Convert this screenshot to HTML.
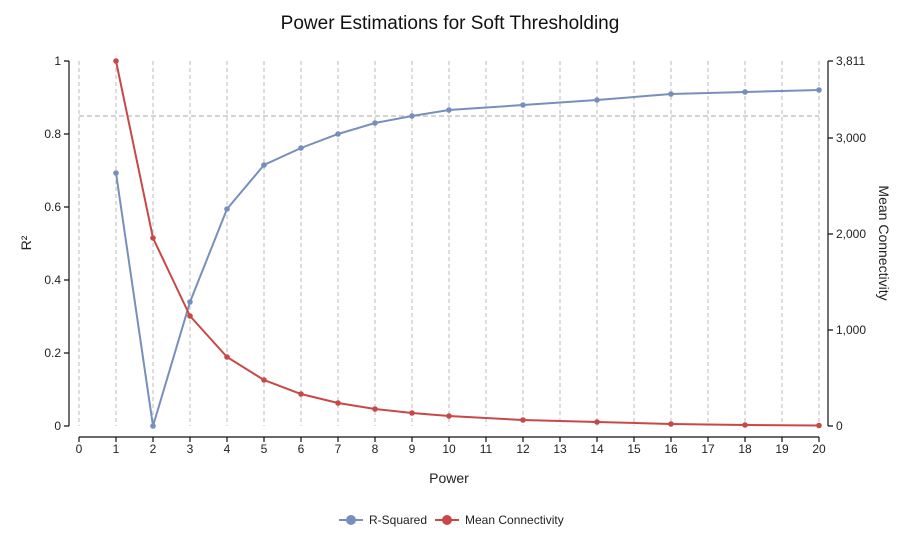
<!DOCTYPE html>
<html><head><meta charset="utf-8"><style>body{margin:0;background:#fff}svg{display:block;font-family:"Liberation Sans",Roboto,sans-serif}</style></head><body>
<svg width="901" height="533" viewBox="0 0 901 533" xmlns="http://www.w3.org/2000/svg">
<text x="450" y="29" text-anchor="middle" font-size="19" fill="#111">Power Estimations for Soft Thresholding</text>
<g stroke="#bbb" stroke-dasharray="4,3" stroke-width="1">
<line x1="79" y1="61" x2="79" y2="426"/><line x1="116" y1="61" x2="116" y2="426"/><line x1="153" y1="61" x2="153" y2="426"/><line x1="190" y1="61" x2="190" y2="426"/><line x1="227" y1="61" x2="227" y2="426"/><line x1="264" y1="61" x2="264" y2="426"/><line x1="301" y1="61" x2="301" y2="426"/><line x1="338" y1="61" x2="338" y2="426"/><line x1="375" y1="61" x2="375" y2="426"/><line x1="412" y1="61" x2="412" y2="426"/><line x1="449" y1="61" x2="449" y2="426"/><line x1="486" y1="61" x2="486" y2="426"/><line x1="523" y1="61" x2="523" y2="426"/><line x1="560" y1="61" x2="560" y2="426"/><line x1="597" y1="61" x2="597" y2="426"/><line x1="634" y1="61" x2="634" y2="426"/><line x1="671" y1="61" x2="671" y2="426"/><line x1="708" y1="61" x2="708" y2="426"/><line x1="745" y1="61" x2="745" y2="426"/><line x1="782" y1="61" x2="782" y2="426"/><line x1="819" y1="61" x2="819" y2="426"/>
</g>
<line x1="79" y1="116" x2="819" y2="116" stroke="#aaa" stroke-dasharray="5,3"/>
<g stroke="#111" stroke-width="1.2" fill="none">
<path d="M69 61V426"/><path d="M64 61H69M64 134H69M64 207H69M64 280H69M64 353H69M64 426H69"/>
<path d="M828 61V426"/><path d="M828 61H833M828 138H833M828 234H833M828 330H833M828 426H833"/>
<path d="M79 437H819"/>
<path d="M79 437v5M116 437v5M153 437v5M190 437v5M227 437v5M264 437v5M301 437v5M338 437v5M375 437v5M412 437v5M449 437v5M486 437v5M523 437v5M560 437v5M597 437v5M634 437v5M671 437v5M708 437v5M745 437v5M782 437v5M819 437v5"/>
</g>
<g font-size="12" fill="#222" text-anchor="end">
<text x="61" y="65">1</text><text x="61" y="138">0.8</text><text x="61" y="211">0.6</text><text x="61" y="284">0.4</text><text x="61" y="357">0.2</text><text x="61" y="430">0</text>
</g>
<g font-size="12" fill="#222">
<text x="836" y="65">3,811</text><text x="836" y="142">3,000</text><text x="836" y="238">2,000</text><text x="836" y="334">1,000</text><text x="836" y="430">0</text>
</g>
<g font-size="12" fill="#222" text-anchor="middle">
<text x="79" y="453">0</text><text x="116" y="453">1</text><text x="153" y="453">2</text><text x="190" y="453">3</text><text x="227" y="453">4</text><text x="264" y="453">5</text><text x="301" y="453">6</text><text x="338" y="453">7</text><text x="375" y="453">8</text><text x="412" y="453">9</text><text x="449" y="453">10</text><text x="486" y="453">11</text><text x="523" y="453">12</text><text x="560" y="453">13</text><text x="597" y="453">14</text><text x="634" y="453">15</text><text x="671" y="453">16</text><text x="708" y="453">17</text><text x="745" y="453">18</text><text x="782" y="453">19</text><text x="819" y="453">20</text>
</g>
<text x="449" y="483" font-size="14" text-anchor="middle" fill="#222">Power</text>
<text transform="translate(31,243) rotate(-90)" font-size="14" text-anchor="middle" fill="#222">R²</text>
<text transform="translate(879,243) rotate(90)" font-size="14" text-anchor="middle" fill="#222">Mean Connectivity</text>
<polyline fill="none" stroke="#7790bb" stroke-width="2" points="116,173 153,426 190,302 227,209 264,165 301,148 338,134 375,123 412,116 449,110 523,105 597,100 671,94 745,92 819,90"/>
<g fill="#7790bb"><circle cx="116" cy="173" r="2.8"/><circle cx="153" cy="426" r="2.8"/><circle cx="190" cy="302" r="2.8"/><circle cx="227" cy="209" r="2.8"/><circle cx="264" cy="165" r="2.8"/><circle cx="301" cy="148" r="2.8"/><circle cx="338" cy="134" r="2.8"/><circle cx="375" cy="123" r="2.8"/><circle cx="412" cy="116" r="2.8"/><circle cx="449" cy="110" r="2.8"/><circle cx="523" cy="105" r="2.8"/><circle cx="597" cy="100" r="2.8"/><circle cx="671" cy="94" r="2.8"/><circle cx="745" cy="92" r="2.8"/><circle cx="819" cy="90" r="2.8"/></g>
<polyline fill="none" stroke="#c84848" stroke-width="2" points="116,61 153,238 190,316 227,357 264,380 301,394 338,403 375,409 412,413 449,416 523,420 597,422 671,424 745,425 819,425.5"/>
<g fill="#c84848"><circle cx="116" cy="61" r="2.8"/><circle cx="153" cy="238" r="2.8"/><circle cx="190" cy="316" r="2.8"/><circle cx="227" cy="357" r="2.8"/><circle cx="264" cy="380" r="2.8"/><circle cx="301" cy="394" r="2.8"/><circle cx="338" cy="403" r="2.8"/><circle cx="375" cy="409" r="2.8"/><circle cx="412" cy="413" r="2.8"/><circle cx="449" cy="416" r="2.8"/><circle cx="523" cy="420" r="2.8"/><circle cx="597" cy="422" r="2.8"/><circle cx="671" cy="424" r="2.8"/><circle cx="745" cy="425" r="2.8"/><circle cx="819" cy="425.5" r="2.8"/></g>
<line x1="339" y1="520" x2="363" y2="520" stroke="#7790bb" stroke-width="2"/><circle cx="351" cy="520" r="5" fill="#7790bb"/>
<text x="369" y="524" font-size="12" fill="#222">R-Squared</text>
<line x1="435" y1="520" x2="459" y2="520" stroke="#c84848" stroke-width="2"/><circle cx="447" cy="520" r="5" fill="#c84848"/>
<text x="465" y="524" font-size="12" fill="#222">Mean Connectivity</text>
</svg>
</body></html>
